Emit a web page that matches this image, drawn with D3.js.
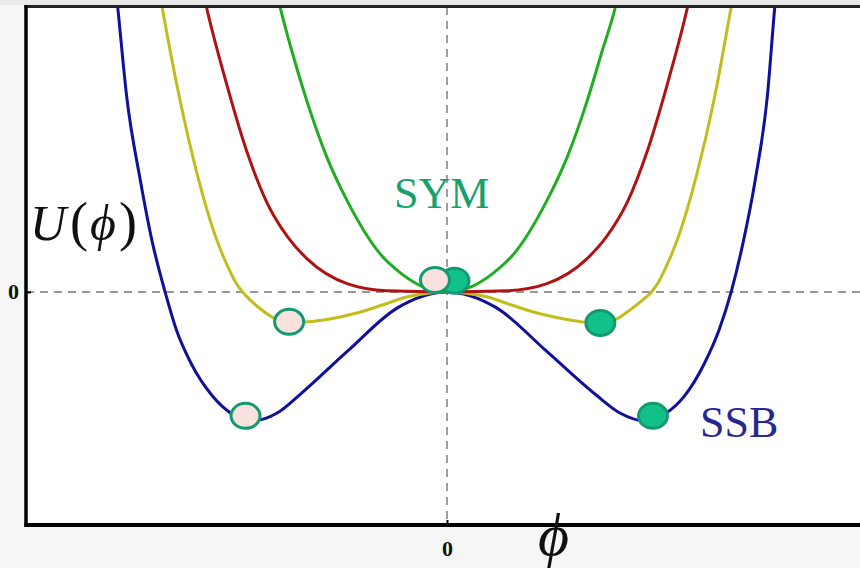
<!DOCTYPE html>
<html>
<head>
<meta charset="utf-8">
<script src="https://cdn.jsdelivr.net/npm/d3@7"></script>
<style>
  html, body { margin: 0; padding: 0; background: #f6f6f6; }
  svg { display: block; }
</style>
</head>
<body>
<div id="chart"></div>
<script>
// curves: phi, U(phi)
const greenPhi = [-1.16, -1.11, -1.03, -0.93, -0.80, -0.66, -0.45, -0.31, -0.16, 0, 0.16, 0.31, 0.45, 0.66, 0.80, 0.93, 1.03, 1.12, 1.17];
const greenU   = [11.2, 10, 8.42, 6.67, 4.74, 3.16, 1.37, 0.67, 0.18, 0, 0.18, 0.67, 1.37, 3.16, 4.74, 6.67, 8.42, 10, 11.2];

const redPhi = [-1.65, -1.60, -1.46, -1.33, -1.20, -1.06, -0.93, -0.66, -0.40, 0, 0.40, 0.66, 0.93, 1.06, 1.20, 1.33, 1.46, 1.60, 1.65];
const redU   = [11.2, 10, 7.19, 4.91, 3.16, 1.93, 1.16, 0.28, 0.04, 0, 0.04, 0.28, 1.16, 1.93, 3.16, 4.91, 7.19, 10, 11.2];

const yellowPhi = [-1.96, -1.895, -1.78, -1.66, -1.54, -1.45, -1.405, -1.36, -1.31, -1.24, -1.14, -1.04, -0.93, -0.78, -0.60, -0.43, -0.27, -0.13, 0,
                   0.13, 0.27, 0.43, 0.60, 0.78, 0.91, 1.02, 1.12, 1.22, 1.29, 1.36, 1.405, 1.45, 1.54, 1.66, 1.78, 1.89, 1.96];
const yellowU   = [12.0, 10, 6.84, 4.1, 1.95, 0.8, 0.33, 0, -0.28, -0.60, -0.95, -1.07, -1.05, -0.95, -0.74, -0.46, -0.18, -0.05, 0,
                   -0.05, -0.18, -0.46, -0.74, -0.95, -1.06, -1.09, -0.97, -0.62, -0.33, 0, 0.33, 0.8, 1.95, 4.1, 6.84, 10, 12.0];

const bluePhi = [-2.25, -2.19, -2.13, -2.04, -1.96, -1.875, -1.80, -1.70, -1.56, -1.43, -1.30, -1.13, -0.98, -0.66, -0.33, 0,
                 0.33, 0.66, 0.99, 1.15, 1.32, 1.45, 1.58, 1.71, 1.81, 1.89, 1.97, 2.05, 2.13, 2.18, 2.24];
const blueU   = [13, 10, 6.84, 3.93, 1.75, 0, -1.33, -2.53, -3.65, -4.28, -4.53, -4.25, -3.61, -2.07, -0.56, 0,
                 -0.56, -2.07, -3.61, -4.25, -4.53, -4.28, -3.65, -2.53, -1.33, 0, 1.75, 3.93, 6.84, 10, 13];

// balls: left ones pale, right ones filled (drawn in this order)
const ballPhi  = [0.05, -1.34, -1.05, -0.08, 1.37, 1.02];
const ballU    = [0.39, -4.35, -1.05, 0.42, -4.35, -1.09];
const ballKind = ["full", "pale", "pale", "pale", "full", "full"];

const W = 860, H = 568;
const plotL = 26, plotT = 7, plotB = 525;

const svg = d3.select("#chart").append("svg")
    .attr("width", W).attr("height", H);

const x = d3.scaleLinear().domain([-2.8, 2.8]).range([plotL, 868]);
const y = d3.scaleLinear().domain([-8.18, 10]).range([plotB, plotT]);

// grey band above the frame
svg.append("rect").attr("x", 0).attr("y", 0).attr("width", W).attr("height", 5).attr("fill", "#e9e9e9");

// plot area
svg.append("rect").attr("x", plotL).attr("y", plotT)
    .attr("width", W - plotL).attr("height", plotB - plotT).attr("fill", "#ffffff");

svg.append("clipPath").attr("id", "clip").append("rect")
    .attr("x", plotL).attr("y", plotT).attr("width", W - plotL).attr("height", plotB - plotT);

// dashed zero lines
svg.append("line").attr("x1", plotL).attr("x2", W).attr("y1", y(0)).attr("y2", y(0))
    .attr("stroke", "#777").attr("stroke-width", 1.4).attr("stroke-dasharray", "8,6");
svg.append("line").attr("x1", x(0)).attr("x2", x(0)).attr("y1", plotT).attr("y2", plotB)
    .attr("stroke", "#777").attr("stroke-width", 1.4).attr("stroke-dasharray", "8,6");

const line = d3.line().x(d => x(d[0])).y(d => y(d[1])).curve(d3.curveMonotoneX);

const curves = [
    { phi: bluePhi, u: blueU, color: "#10109c" },
    { phi: yellowPhi, u: yellowU, color: "#c2bd1c" },
    { phi: redPhi, u: redU, color: "#b01212" },
    { phi: greenPhi, u: greenU, color: "#1fae1f" }
];

const gCurves = svg.append("g").attr("clip-path", "url(#clip)");
curves.forEach(c => {
    gCurves.append("path")
        .datum(d3.zip(c.phi, c.u))
        .attr("d", line)
        .attr("fill", "none")
        .attr("stroke", c.color)
        .attr("stroke-width", 3);
});

// balls
svg.append("g").selectAll("ellipse")
    .data(d3.range(ballPhi.length))
    .enter().append("ellipse")
    .attr("cx", i => x(ballPhi[i]))
    .attr("cy", i => y(ballU[i]))
    .attr("rx", 14.5).attr("ry", 12.5)
    .attr("fill", i => ballKind[i] === "full" ? "#12c189" : "#f9e1dd")
    .attr("stroke", "#139a70")
    .attr("stroke-width", 3);

// axes
const yAxis = d3.axisLeft(y).tickValues([0]).tickFormat(d3.format("d")).tickSizeInner(-5).tickSizeOuter(0).tickPadding(7);
const xAxis = d3.axisBottom(x).tickValues([0]).tickFormat(d3.format("d")).tickSizeInner(-5).tickSizeOuter(0).tickPadding(15);

const gy = svg.append("g").attr("transform", `translate(${plotL},0)`).call(yAxis);
const gx = svg.append("g").attr("transform", `translate(0,${plotB})`).call(xAxis);
[gx, gy].forEach(g => {
    g.select(".domain").remove();
    g.selectAll(".tick line").attr("stroke", "#000").attr("stroke-width", 2);
    g.selectAll("text").attr("font-family", "'Liberation Serif', 'DejaVu Serif', serif")
        .attr("font-weight", "bold").attr("font-size", "22px").attr("fill", "#111");
});

// frame: top, left, bottom
svg.append("line").attr("x1", plotL - 1.5).attr("x2", W).attr("y1", plotT - 0.5).attr("y2", plotT - 0.5)
    .attr("stroke", "#222").attr("stroke-width", 3);
svg.append("line").attr("x1", plotL).attr("x2", plotL).attr("y1", plotT - 2).attr("y2", plotB + 2)
    .attr("stroke", "#000").attr("stroke-width", 3.5);
svg.append("line").attr("x1", plotL - 1.5).attr("x2", W).attr("y1", plotB).attr("y2", plotB)
    .attr("stroke", "#000").attr("stroke-width", 4);

// labels
const serif = "'Liberation Serif', 'DejaVu Serif', serif";
const ul = svg.append("text").attr("x", 30).attr("y", 240)
    .attr("font-family", serif).attr("font-size", "50px").attr("fill", "#111");
ul.append("tspan").attr("font-style", "italic").text("U");
ul.append("tspan").attr("dx", 4).attr("font-size", "54px").text("(");
ul.append("tspan").attr("dx", 2).attr("font-style", "italic").text("ϕ");
ul.append("tspan").attr("dx", 3).attr("font-size", "54px").text(")");

svg.append("text").attr("x", 538).attr("y", 555)
    .attr("font-family", serif).attr("font-style", "italic").attr("font-size", "60px").attr("fill", "#111")
    .text("ϕ");

svg.append("text").attr("x", 394).attr("y", 208)
    .attr("font-family", serif).attr("font-size", "44px").attr("fill", "#17a06a")
    .text("SYM");

svg.append("text").attr("x", 700).attr("y", 437)
    .attr("font-family", serif).attr("font-size", "44px").attr("fill", "#27278e")
    .text("SSB");
</script>
</body>
</html>
